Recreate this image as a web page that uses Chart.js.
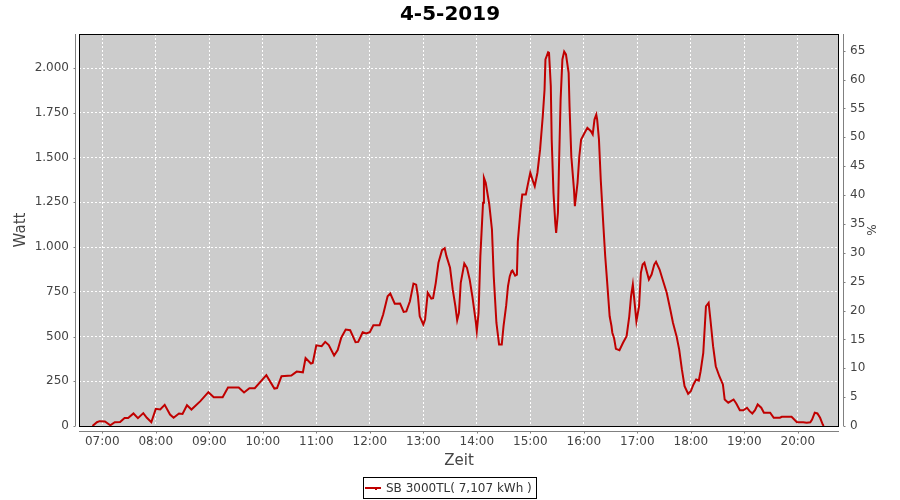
<!DOCTYPE html>
<html><head><meta charset="utf-8">
<script src="https://cdn.jsdelivr.net/npm/chart.js@4.4.0/dist/chart.umd.min.js"></script>
<style>html,body{margin:0;padding:0;background:#fff;}#wrap{width:900px;height:500px;}</style>
</head><body><div id="wrap"><canvas id="c" width="900" height="500"></canvas></div>
<script>
const chartTitle = '4-5-2019';
const seriesLabel = 'SB 3000TL( 7,107 kWh )';
const xTitle = 'Zeit';
const yTitle = 'Watt';
const y2Title = '%';

const times = ['06:49','06:54','06:57','07:03','07:09','07:14','07:20','07:25','07:29','07:35','07:40','07:46','07:50','07:55',
'08:00','08:05','08:10','08:16','08:20','08:26','08:30','08:35','08:40','08:50','08:59','09:05','09:15','09:21','09:33','09:39','09:45','09:51',
'10:04','10:13','10:16','10:21','10:32','10:38','10:45','10:48','10:54','10:56','11:00','11:06','11:10','11:14','11:20','11:24','11:28','11:33','11:38','11:41','11:44','11:47','11:52','11:56',
'12:00','12:04','12:11','12:15','12:20','12:23','12:28','12:34','12:38','12:41','12:45','12:49','12:52','12:54','12:56',
'13:00','13:02','13:05','13:09','13:11','13:14','13:17','13:21','13:24','13:26','13:30','13:33','13:36','13:38','13:40','13:42','13:46','13:49','13:52','13:55','13:59',
'14:00','14:02','14:04','14:07','14:08','14:10','14:14','14:17','14:19','14:22','14:25','14:28','14:30','14:33','14:35','14:37','14:39','14:40','14:43','14:45','14:46','14:49','14:51','14:55','14:58',
'15:00','15:03','15:05','15:08','15:11','15:14','15:16','15:17','15:20','15:21','15:23','15:24','15:26','15:28','15:29','15:31','15:32','15:34','15:36','15:38','15:40','15:43','15:44','15:46','15:49','15:50','15:53','15:55','15:57',
'16:01','16:04','16:08','16:10','16:12','16:14','16:15','16:17','16:19','16:22','16:24','16:26','16:28','16:29','16:31','16:32','16:34','16:36','16:40','16:44','16:48','16:51','16:53','16:55','16:57','16:59',
'17:02','17:04','17:06','17:08','17:10','17:13','17:16','17:19','17:21','17:25','17:29','17:33','17:37','17:40','17:44','17:47','17:50','17:53','17:57',
'18:00','18:03','18:06','18:09','18:11','18:14','18:17','18:20','18:22','18:25','18:28','18:32','18:36','18:38','18:42','18:45','18:48','18:51','18:55','18:59',
'19:03','19:06','19:09','19:12','19:15','19:19','19:22','19:29','19:33','19:40','19:42','19:53','19:59',
'20:06','20:10','20:14','20:16','20:19','20:22','20:25','20:28','20:29'];

const watts = [0,21,27,25,4,21,22,44,44,70,44,72,46,21,
96,92,118,64,46,70,67,116,92,139,189,161,161,215,215,187,211,211,
284,209,212,278,282,304,300,379,349,352,451,446,470,452,394,424,493,539,535,502,468,470,524,517,
524,563,563,623,725,740,683,684,638,640,697,796,790,725,613,
567,595,744,712,714,800,912,982,993,949,884,763,669,591,632,800,908,884,819,725,577,
530,632,949,1247,1387,1359,1238,1098,837,577,455,455,558,675,781,837,865,869,840,846,1030,1205,1293,1293,1368,
1415,1368,1340,1415,1545,1731,1880,2048,2088,2085,1899,1601,1303,1135,1079,1191,1415,1824,2048,2092,2076,1973,1787,1507,1321,1228,1359,1507,1601,
1638,1666,1647,1629,1712,1740,1712,1601,1377,1116,950,818,680,613,560,521,490,431,423,465,502,613,725,790,688,585,
669,856,902,912,874,818,846,902,917,874,809,744,651,577,502,427,316,222,180,
194,232,260,254,306,409,669,688,595,446,334,278,232,148,130,139,148,126,88,88,
102,83,70,88,120,102,74,74,46,46,51,51,21,
21,18,21,36,74,70,46,8,0];

const hourTicks = ['07:00','08:00','09:00','10:00','11:00','12:00','13:00','14:00','15:00','16:00','17:00','18:00','19:00','20:00'];
const wattTicks = [0,250,500,750,1000,1250,1500,1750,2000];
const percentTicks = [0,5,10,15,20,25,30,35,40,45,50,55,60,65];

const toMin = s => { const [h,m] = s.split(':').map(Number); return h*60+m; };
const fmtMin = v => { const h = Math.floor(v/60), m = Math.round(v%60); return String(h).padStart(2,'0')+':'+String(m).padStart(2,'0'); };
const fmtDe = v => String(v).replace(/\B(?=(\d{3})+(?!\d))/g, '.');

const FONT = 'DejaVu Sans';
const TICKCOL = '#444444';
const AXISCOL = '#808080';
Chart.defaults.font.family = FONT;

const deco = {
  id: 'deco',
  beforeDraw(chart) {
    const {ctx, chartArea: a} = chart;
    ctx.save();
    ctx.fillStyle = '#cccccc';
    ctx.fillRect(a.left, a.top, a.right - a.left, a.bottom - a.top);
    ctx.restore();
  },
  afterDraw(chart) {
    const {ctx, chartArea: a, scales} = chart;
    ctx.save();
    ctx.strokeStyle = '#000';
    ctx.lineWidth = 1;
    ctx.strokeRect(a.left + 0.5, a.top + 0.5, a.right - a.left - 1, a.bottom - a.top);
    ctx.strokeStyle = AXISCOL;
    ctx.beginPath();
    const lx = a.left - 3.5, rx = a.right + 4.5, by = a.bottom + 5.5;
    ctx.moveTo(lx, a.top); ctx.lineTo(lx, a.bottom);
    scales.y.ticks.forEach(t => { const p = Math.round(scales.y.getPixelForValue(t.value)) + 0.5; ctx.moveTo(lx - 2, p); ctx.lineTo(lx, p); });
    ctx.moveTo(rx, a.top); ctx.lineTo(rx, a.bottom);
    scales.y2.ticks.forEach(t => { const p = Math.round(scales.y2.getPixelForValue(t.value)) + 0.5; ctx.moveTo(rx, p); ctx.lineTo(rx + 2, p); });
    ctx.moveTo(a.left, by); ctx.lineTo(a.right, by);
    scales.x.ticks.forEach(t => { const p = Math.round(scales.x.getPixelForValue(t.value)) + 0.5; ctx.moveTo(p, by); ctx.lineTo(p, by + 2); });
    ctx.stroke();
    ctx.fillStyle = '#000';
    ctx.font = 'bold 20px "' + FONT + '"';
    ctx.textAlign = 'center';
    ctx.textBaseline = 'alphabetic';
    ctx.fillText(chartTitle, 450, 20);
    ctx.fillStyle = TICKCOL;
    ctx.font = '15px "' + FONT + '"';
    ctx.textBaseline = 'middle';
    ctx.fillText(xTitle, (a.left + a.right) / 2, 461);
    ctx.save();
    ctx.translate(21, (a.top + a.bottom) / 2);
    ctx.rotate(-Math.PI / 2);
    ctx.fillText(yTitle, 0, 0);
    ctx.restore();
    ctx.save();
    ctx.font = '12px "' + FONT + '"';
    ctx.translate(873, (a.top + a.bottom) / 2);
    ctx.rotate(-Math.PI / 2);
    ctx.fillText(y2Title, 0, 0);
    ctx.restore();
    ctx.strokeStyle = '#000';
    ctx.strokeRect(363.5, 477.5, 173, 21);
    ctx.strokeStyle = '#c00000';
    ctx.lineWidth = 2;
    ctx.beginPath(); ctx.moveTo(365, 488); ctx.lineTo(381, 488); ctx.stroke();
    ctx.fillStyle = '#c00000';
    ctx.fillRect(375, 488, 2, 2);
    ctx.fillStyle = '#333333';
    ctx.font = '12px "' + FONT + '"';
    ctx.textAlign = 'left';
    ctx.textBaseline = 'middle';
    ctx.fillText(seriesLabel, 386, 488.5);
    ctx.restore();
  }
};

const points = times.map((t, i) => ({x: toMin(t), y: watts[i]}));

new Chart(document.getElementById('c'), {
  type: 'line',
  data: { datasets: [{ label: seriesLabel, data: points, borderColor: '#c00000', borderWidth: 2, pointRadius: 0, tension: 0, fill: false, yAxisID: 'y' }] },
  options: {
    responsive: false, animation: false, devicePixelRatio: 1,
    layout: { padding: { top: 34, left: 0, right: 0, bottom: 0 } },
    plugins: { legend: { display: false }, title: { display: false }, tooltip: { enabled: false } },
    scales: {
      x: {
        type: 'linear', position: 'bottom', min: 393.9, max: 1246.2,
        afterFit: s => { s.height = 74; },
        afterBuildTicks: s => { s.ticks = hourTicks.map(h => ({value: toMin(h)})); },
        ticks: { callback: v => fmtMin(v), color: TICKCOL, font: {size: 12}, padding: 9, autoSkip: false, maxRotation: 0 },
        grid: { color: '#ffffff', lineWidth: 1, drawTicks: false },
        border: { display: false, dash: [2, 2] }
      },
      y: {
        type: 'linear', position: 'left', min: 0, max: 2190,
        afterFit: s => { s.width = 79; },
        afterBuildTicks: s => { s.ticks = wattTicks.map(v => ({value: v})); },
        ticks: { callback: v => fmtDe(v), color: TICKCOL, font: {size: 12}, padding: 10 },
        grid: { color: '#ffffff', lineWidth: 1, drawTicks: false },
        border: { display: false, dash: [2, 2] }
      },
      y2: {
        type: 'linear', position: 'right', min: 0, max: 67.9,
        afterFit: s => { s.width = 61; },
        afterBuildTicks: s => { s.ticks = percentTicks.map(v => ({value: v})); },
        ticks: { callback: v => String(v), color: TICKCOL, font: {size: 12}, padding: 11 },
        grid: { display: false, drawTicks: false },
        border: { display: false }
      }
    }
  },
  plugins: [deco]
});
</script></body></html>
